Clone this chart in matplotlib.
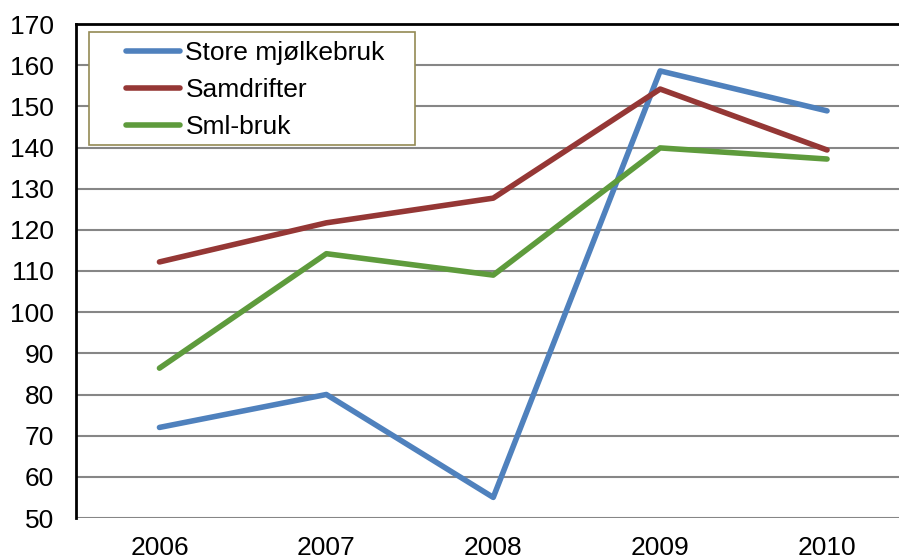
import matplotlib.pyplot as plt
from matplotlib.patches import Rectangle

years = ["2006", "2007", "2008", "2009", "2010"]
store = [72.0, 80.0, 55.0, 158.6, 148.9]
samdrifter = [112.2, 121.7, 127.7, 154.2, 139.4]
sml_bruk = [86.4, 114.2, 109.0, 139.9, 137.2]
y_ticks = list(range(50, 171, 10))

plt.rcParams['font.family'] = ['Liberation Sans', 'DejaVu Sans']

fig = plt.figure(figsize=(8.99, 5.60), dpi=100)
# plot area runs past the right edge, like the cropped original
ax = fig.add_axes([76 / 899, 42 / 560, 834.5 / 899, 494 / 560])

x = list(range(len(years)))
ax.plot(x, store, color="#4F81BD", linewidth=4, label="Store mjølkebruk",
        solid_capstyle="round", solid_joinstyle="round", zorder=3)
ax.plot(x, samdrifter, color="#953735", linewidth=4, label="Samdrifter",
        solid_capstyle="round", solid_joinstyle="round", zorder=3)
ax.plot(x, sml_bruk, color="#5E9B3C", linewidth=4, label="Sml-bruk",
        solid_capstyle="round", solid_joinstyle="round", zorder=3)

ax.set_xlim(-0.5, len(years) - 0.5)
ax.set_ylim(50, 170)
ax.set_yticks(y_ticks)
ax.set_xticks(x)
ax.set_xticklabels(years)
ax.tick_params(axis='both', length=0, labelsize=19)
ax.tick_params(axis='y', pad=16)
ax.tick_params(axis='x', pad=13)
ax.yaxis.grid(True, color="#868686", linewidth=1.5)
ax.set_axisbelow(True)

for s in ["right", "bottom"]:
    ax.spines[s].set_visible(False)
ax.spines["left"].set_linewidth(2)
ax.spines["top"].set_linewidth(2)
ax.spines["left"].set_color("black")
ax.spines["top"].set_color("black")

# legend box
box = Rectangle((89 / 899, 1 - 145 / 560), 326 / 899, 113 / 560,
                transform=fig.transFigure, facecolor="white",
                edgecolor="#948A54", linewidth=1.2, zorder=4, clip_on=False)
ax.add_patch(box)
leg = ax.legend(loc="upper left", bbox_to_anchor=(126 / 899, 1 - 41 / 560),
                bbox_transform=fig.transFigure, frameon=False, fontsize=19,
                handlelength=2.05, handletextpad=0.2, labelspacing=0.5,
                borderpad=0, borderaxespad=0)
leg.set_zorder(5)

fig.savefig("out.png", dpi=100)
